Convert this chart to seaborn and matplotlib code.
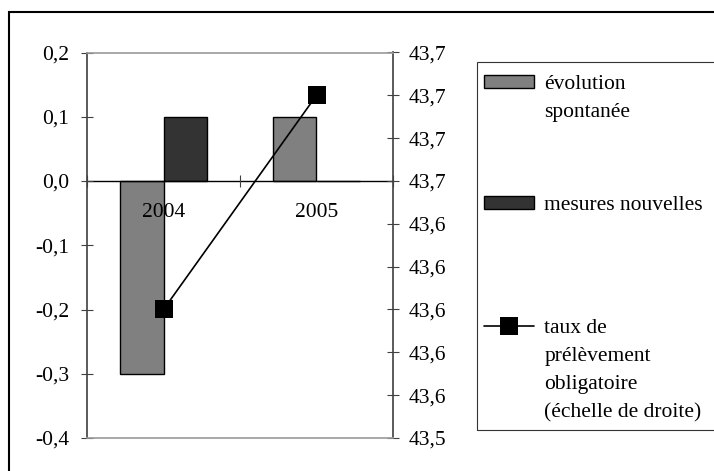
import matplotlib
matplotlib.use("Agg")
import matplotlib.pyplot as plt
from matplotlib.patches import Patch, Rectangle
from matplotlib.lines import Line2D
import seaborn as sns
import pandas as pd

# Data
years = ["2004", "2005"]
evolution_spontanee = [-0.3, 0.1]
mesures_nouvelles = [0.1, 0.0]
taux_prelevement = [43.6, 43.7]

series_names = ["évolution spontanée", "mesures nouvelles"]
series_colors = ["#808080", "#333333"]

left_ticks = [-0.4, -0.3, -0.2, -0.1, 0.0, 0.1, 0.2]
left_labels = ["-0,4", "-0,3", "-0,2", "-0,1", "0,0", "0,1", "0,2"]
right_ticks = [43.54, 43.56, 43.58, 43.60, 43.62, 43.64, 43.66, 43.68, 43.70, 43.72]
right_labels = ["43,5", "43,6", "43,6", "43,6", "43,6", "43,6", "43,7", "43,7", "43,7", "43,7"]

legend_rows_1 = ["évolution", "spontanée"]
legend_rows_2 = ["mesures nouvelles"]
legend_rows_3 = ["taux de", "prélèvement", "obligatoire", "(échelle de droite)"]

# Style
sns.set_style("ticks")
plt.rcParams["font.family"] = ["Liberation Serif", "DejaVu Serif"]
plt.rcParams["font.size"] = 15.5
plt.rcParams["text.color"] = "black"

W, H = 714, 471
fig = plt.figure(figsize=(W / 100, H / 100), dpi=100)
ax = fig.add_axes([87 / W, (H - 438) / H, 306 / W, 385.5 / H])

bars = pd.DataFrame({
    "annee": years * 2,
    "valeur": evolution_spontanee + mesures_nouvelles,
    "serie": [series_names[0]] * len(years) + [series_names[1]] * len(years),
})
sns.barplot(data=bars, x="annee", y="valeur", hue="serie", hue_order=series_names,
            palette=dict(zip(series_names, series_colors)), saturation=1,
            width=0.575, edgecolor="black", linewidth=1, legend=False, ax=ax,
            zorder=2)
ax.set_ylim(-0.4, 0.2)
ax.set_xlabel("")
ax.set_ylabel("")
ax.set_axisbelow(False)

# Rate on the right-hand scale
ax2 = ax.twinx()
line_df = pd.DataFrame({"annee": years, "taux": taux_prelevement})
sns.pointplot(data=line_df, x="annee", y="taux", ax=ax2, color="black",
              markers="s", linestyles="-", markersize=13, linewidth=1.2,
              markeredgewidth=0, errorbar=None)
ax2.set_ylim(43.54, 43.72)
ax2.set_yticks(right_ticks, right_labels)
ax2.set_ylabel("")
ax.set_xlim(-0.5, 1.5)

# Axes lines
ax.spines["bottom"].set_position(("data", 0))
ax.spines["bottom"].set_color("black")
ax.spines["bottom"].set_linewidth(1)
ax.spines["left"].set_color("#404040")
ax.spines["left"].set_linewidth(1.2)
ax.spines["top"].set_visible(False)
ax.spines["right"].set_visible(False)
ax2.spines["left"].set_visible(False)
for side in ("top", "bottom"):
    ax2.spines[side].set_visible(True)
    ax2.spines[side].set_color("#9a9a9a")
    ax2.spines[side].set_linewidth(1.2)
ax2.spines["right"].set_color("#404040")
ax2.spines["right"].set_linewidth(1.2)

# Ticks
ax.set_yticks(left_ticks, left_labels)
ax.tick_params(axis="y", direction="inout", length=8.6, width=0.8,
               color="#404040", labelcolor="black", pad=8.6, labelsize=15.5)
ax2.tick_params(axis="y", direction="inout", length=9, width=0.8,
                color="#404040", labelcolor="black", pad=6.8, labelsize=15.5)
ax.set_xticks(range(len(years)), years)
ax.set_xticks([-0.5, 0.5, 1.5], minor=True)
ax.tick_params(axis="x", which="major", length=0, pad=15.5,
               labelcolor="black", labelsize=15.5)
ax.tick_params(axis="x", which="minor", direction="inout", length=8.6,
               width=0.8, color="#404040")

# Legend
legend_kw = dict(frameon=False, borderpad=0, borderaxespad=0,
                 handlelength=2.3, handleheight=0.58, handletextpad=0.5,
                 labelspacing=0.4, loc="upper left", fontsize=15.5)
blank = Patch(facecolor="none", edgecolor="none")
h1 = Patch(facecolor=series_colors[0], edgecolor="black", linewidth=1)
h2 = Patch(facecolor=series_colors[1], edgecolor="black", linewidth=1)
h3 = Line2D([], [], color="black", linewidth=1.2, marker="s",
            markersize=13, markeredgewidth=0)

fig.legend([h1] + [blank] * (len(legend_rows_1) - 1), legend_rows_1,
           bbox_to_anchor=(484 / W, (H - 75) / H), **legend_kw)
fig.legend([h2], legend_rows_2,
           bbox_to_anchor=(484 / W, (H - 196) / H), **legend_kw)
fig.legend([h3] + [blank] * (len(legend_rows_3) - 1), legend_rows_3,
           bbox_to_anchor=(484 / W, (H - 319) / H), **legend_kw)

fig.add_artist(Rectangle((477 / W, (H - 429.5) / H), 1.0, (429.5 - 62) / H,
                         transform=fig.transFigure, fill=False,
                         edgecolor="#333333", linewidth=0.8))
# Chart border
fig.add_artist(Rectangle((8.5 / W, -0.5), 2.0, (H - 12) / H + 0.5,
                         transform=fig.transFigure, fill=False,
                         edgecolor="black", linewidth=1.5))

fig.savefig("out.png", dpi=100)
